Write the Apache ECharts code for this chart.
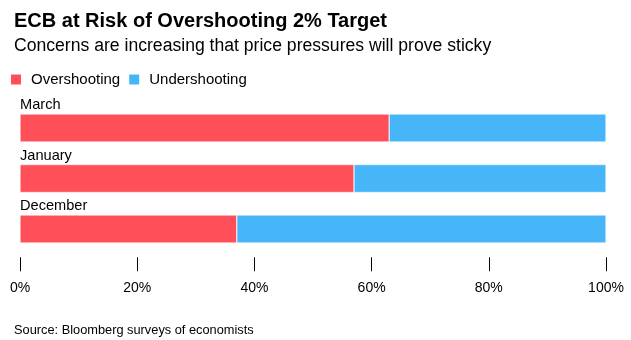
<!DOCTYPE html>
<html><head><meta charset="utf-8">
<script src="https://cdn.jsdelivr.net/npm/echarts@6/dist/echarts.min.js"></script>
<style>html,body{margin:0;padding:0;background:#fff}#c{width:631px;height:340px}</style>
</head><body><div id="c"></div>
<script>
const categories = ['March', 'January', 'December'];
const overshooting = [63, 57, 37];
const undershooting = [37, 43, 63];
const tickLabels = ['0%', '20%', '40%', '60%', '80%', '100%'];
const seriesNames = ['Overshooting', 'Undershooting'];

const FONT = '"Liberation Sans", Arial, sans-serif';
const chart = echarts.init(document.getElementById('c'), null, {renderer: 'canvas'});
chart.setOption({
  animation: false,
  backgroundColor: '#ffffff',
  title: [
    {text: 'ECB at Risk of Overshooting 2% Target', left: 9, top: 6,
     textStyle: {fontFamily: FONT, fontSize: 20, fontWeight: 'bold', color: '#000'}},
    {text: 'Concerns are increasing that price pressures will prove sticky', left: 9, top: 32,
     textStyle: {fontFamily: FONT, fontSize: 17.6, fontWeight: 'normal', color: '#000'}},
    {text: 'Source: Bloomberg surveys of economists', left: 9, top: 319,
     textStyle: {fontFamily: FONT, fontSize: 12.8, fontWeight: 'normal', color: '#000'}}
  ],
  legend: {
    left: 4, top: 67, itemWidth: 12, itemHeight: 12, itemGap: 7,
    icon: 'rect',
    data: seriesNames,
    textStyle: {fontFamily: FONT, fontSize: 15, color: '#000', padding: [0, 0, 0, 4]}
  },
  grid: {left: 20, right: 25, top: 102.75, bottom: 340 - 254.25},
  xAxis: {
    type: 'value', min: 0, max: 100, interval: 20,
    offset: 3,
    axisLine: {show: false},
    axisTick: {show: true, length: 14, lineStyle: {color: '#000', width: 1}},
    splitLine: {show: false},
    axisLabel: {margin: 24, fontFamily: FONT, fontSize: 14, color: '#000',
      formatter: function (v) { return tickLabels[Math.round(v / 20)]; }}
  },
  yAxis: {
    type: 'category', data: categories, inverse: true,
    axisLine: {show: false}, axisTick: {show: false},
    axisLabel: {show: false}
  },
  series: [
    {name: seriesNames[0], type: 'bar', stack: 's', data: overshooting, barWidth: 28,
     itemStyle: {color: '#FF505A', borderColor: '#fff', borderWidth: 0.5},
     label: {show: true, position: [0, -9], align: 'left', verticalAlign: 'middle',
       fontFamily: FONT, fontSize: 14.6, color: '#000',
       formatter: function (p) { return categories[p.dataIndex]; }}},
    {name: seriesNames[1], type: 'bar', stack: 's', data: undershooting, barWidth: 28,
     itemStyle: {color: '#46B6F9', borderColor: '#fff', borderWidth: 0.5}}
  ]
});
</script></body></html>
